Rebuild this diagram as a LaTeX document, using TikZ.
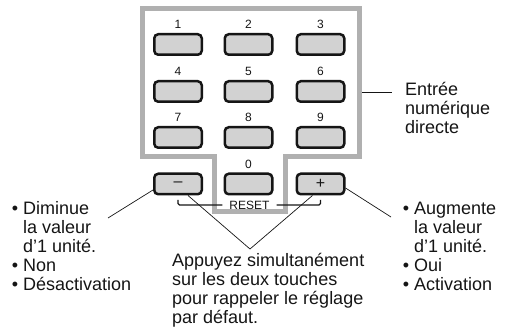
\documentclass[tikz,border=0pt]{standalone}
\usepackage{fontspec}
\setmainfont{Liberation Sans}
\usetikzlibrary{positioning}
\definecolor{Frame}{HTML}{B0B0B0}
\definecolor{KeyFill}{HTML}{D2D2D2}
\definecolor{Ink}{HTML}{151515}
\tikzset{
  key/.style={draw=Ink,fill=KeyFill,line width=2.5pt,rounded corners=4pt,minimum width=47.5pt,minimum height=20.5pt,inner sep=0pt,font=\fontsize{16}{16}\selectfont,text=Ink},
  num/.style={font=\fontsize{12}{12}\selectfont,inner sep=0pt,text=Ink},
  note/.style={font=\fontsize{18}{19}\selectfont,align=left,anchor=north west,inner sep=0pt,text=Ink},
  lead/.style={draw=Ink,line width=0.7pt},
  bracket/.style={draw=Ink,line width=1.1pt,rounded corners=1.5pt},
  frame/.style={draw=Frame,line width=5pt}
}

\begin{document}
\begin{tikzpicture}[x=1pt,y=-1pt,node distance=4pt]
  \useasboundingbox (0,0) rectangle (509,336);
  % keypad frame
  \draw[frame] (142,9) -- (359,9) -- (359,157) -- (285,157) -- (285,212) -- (214,212) -- (214,157) -- (142,157) -- cycle;
  % digit keys
  \foreach \d/\x/\y in {1/178/44.5,2/248.5/44.5,3/320.5/44.5,4/178/91.5,5/248.5/91.5,6/320.5/91.5,7/178/137.5,8/248.5/137.5,9/320.5/137.5,0/248.5/184}{
    \node[key] (k\d) at (\x,\y) {};
    \node[num,above=of k\d] (n\d) {\d};
  }
  \node[key] (kminus) at (178,184) {–};
  \node[key] (kplus) at (320.5,184) {+};
  % reset bracket
  \node[num,inner xsep=7pt,outer sep=0pt] (reset) at (249.5,205) {RESET};
  \draw[bracket] ([yshift=-4.5pt]kminus.south) |- (reset.west);
  \draw[bracket] ([yshift=-4.5pt]kplus.south) |- (reset.east);
  % notes
  \node[note] (entree) at (405,82) {Entrée\\numérique\\directe};
  \node[note] (dimtxt) at (23,201) {\llap{• }Diminue\\la valeur\\d'1 unité.\\\llap{• }Non\\\llap{• }Désactivation};
  \node[note] (augtxt) at (414,202) {\llap{• }Augmente\\la valeur\\d'1 unité.\\\llap{• }Oui\\\llap{• }Activation};
  \node[note] (bothtxt) at (172,253) {Appuyez simultanément\\sur les deux touches\\pour rappeler le réglage\\par défaut.};
  % leaders
  \coordinate (entl) at (362,92);
  \coordinate (entr) at (392,92);
  \coordinate (dimtip) at (108,218);
  \coordinate (augtip) at (391,217);
  \coordinate (vtip) at (250,249);
  \draw[lead] (entl) -- (entr);
  \draw[lead] ([yshift=-6pt]kminus.west) -- (dimtip);
  \draw[lead] ([yshift=-4pt]kplus.east) -- (augtip);
  \draw[lead] ([xshift=10pt]kminus.south) -- (vtip);
  \draw[lead] ([xshift=-8pt]kplus.south) -- (vtip);
\end{tikzpicture}
\end{document}
